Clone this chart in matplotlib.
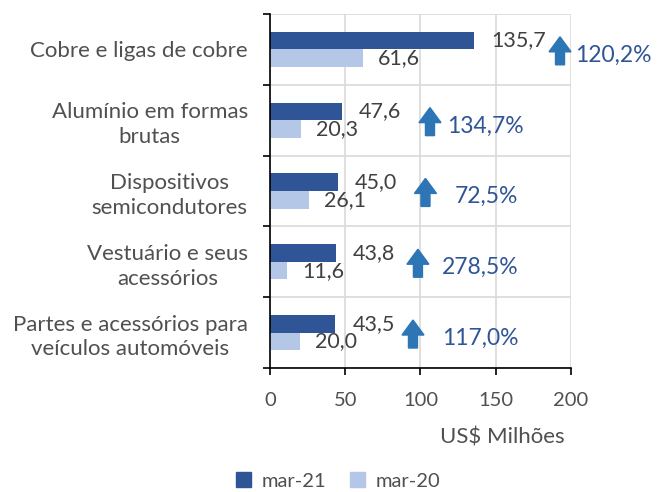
import matplotlib
matplotlib.use("Agg")
import matplotlib.pyplot as plt
import matplotlib.transforms as mtransforms
from matplotlib.patches import FancyArrow, Patch
import numpy as np

plt.rcParams['font.family'] = ['Lato', 'DejaVu Sans']

# dados
categorias = ["Cobre e ligas de cobre",
              "Alumínio em formas\nbrutas",
              "Dispositivos\nsemicondutores",
              "Vestuário e seus\nacessórios",
              "Partes e acessórios para\nveículos automóveis"]
mar21 = [135.7, 47.6, 45.0, 43.8, 43.5]
mar20 = [61.6, 20.3, 26.1, 11.6, 20.0]
variacao = ["120,2%", "134,7%", "72,5%", "278,5%", "117,0%"]
series = ["mar-21", "mar-20"]
xticks = [0, 50, 100, 150, 200]

# posicao das setas / textos de variacao (em unidades do eixo x)
seta_x = [192.7, 106.3, 103.3, 98.3, 95.0]
texto_x = [202.7, 117.6, 122.9, 114.3, 114.3]

cor21 = "#2F5597"
cor20 = "#B4C7E7"
cor_seta = "#2E75B6"
cinza = "#505050"

fig = plt.figure(figsize=(6.57, 4.92), dpi=100)
ax = fig.add_axes([270/657, 1 - 368/492, 301/657, 354/492])

y = np.arange(len(categorias))
h = 0.25
ax.barh(y - h/2, mar21, height=h, color=cor21, zorder=3)
ax.barh(y + h/2, mar20, height=h, color=cor20, zorder=3)

ax.set_xlim(0, 200)
ax.set_ylim(len(categorias) - 0.5, -0.5)

fmt = lambda v: f"{v:.1f}".replace(".", ",")
for yi, v in zip(y, mar21):
    ax.annotate(fmt(v), (v, yi - h/2), xytext=(17, 0), textcoords='offset pixels',
                ha='left', va='center', fontsize=15.5, color="#404040", zorder=4)
for yi, v in zip(y, mar20):
    ax.annotate(fmt(v), (v, yi + h/2), xytext=(15, 0), textcoords='offset pixels',
                ha='left', va='center', fontsize=15.5, color="#404040", zorder=4)

# setas e variacao percentual
for yi, sx, tx, txt in zip(y, seta_x, texto_x, variacao):
    tr = fig.dpi_scale_trans + mtransforms.ScaledTranslation(sx, yi + 0.02, ax.transData)
    arr = FancyArrow(0, -0.14, 0, 0.28, width=0.09, head_width=0.22, head_length=0.15,
                     length_includes_head=True, color=cor_seta, transform=tr,
                     clip_on=False, zorder=5)
    fig.add_artist(arr)
    ax.text(tx, yi + 0.08, txt, ha='left', va='center', fontsize=16.5, color=cor21,
            clip_on=False, zorder=5)

# grade
ax.set_xticks(xticks)
ax.set_xticklabels([str(t) for t in xticks])
ax.xaxis.grid(True, color="#D9D9D9", lw=1.2, zorder=0)
for b in np.arange(-0.5, len(categorias), 1.0):
    ax.axhline(b, color="#D9D9D9", lw=1.2, zorder=0)

ax.set_yticks(y)
ax.set_yticklabels(categorias)
ax.set_yticks(np.arange(-0.5, len(categorias), 1.0), minor=True)
ax.tick_params(axis='y', which='major', length=0, pad=16, labelsize=16, labelcolor=cinza)
ax.tick_params(axis='y', which='minor', length=5, width=1.2, color='black')
ax.tick_params(axis='x', length=5, width=1.2, color='black', pad=12, labelsize=14.5,
               labelcolor=cinza)
for lbl in ax.get_yticklabels():
    lbl.set_multialignment('center')
    lbl.set_linespacing(1.3)

for s in ['top', 'right']:
    ax.spines[s].set_visible(False)
for s in ['left', 'bottom']:
    ax.spines[s].set_color('black')
    ax.spines[s].set_linewidth(1.2)
    ax.spines[s].set_zorder(6)

fig.text(565/657, 1 - 438/492, "US$ Milhões", ha='right', va='center', fontsize=16,
         color=cinza)

handles = [Patch(color=cor21), Patch(color=cor20)]
fig.legend(handles, series, loc='center', bbox_to_anchor=(338/657, 1 - 481/492), ncol=2,
           frameon=False, fontsize=14.5, handlelength=0.75, handleheight=0.75,
           handletextpad=0.5, columnspacing=1.2, labelcolor=cinza, borderpad=0.1)

fig.savefig("out.png", dpi=100)
